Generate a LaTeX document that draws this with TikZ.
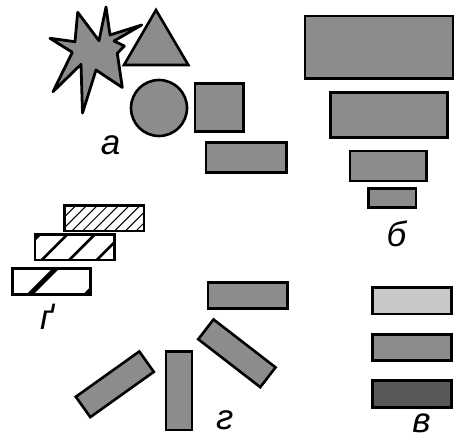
\documentclass[tikz,border=0pt]{standalone}
\usepackage{fontspec}
\newfontfamily\labfont{Liberation Sans}[ItalicFont={Liberation Sans Italic}]
\definecolor{fillg}{RGB}{140,140,140}
\definecolor{filll}{RGB}{200,200,200}
\definecolor{filld}{RGB}{88,88,88}
\tikzset{
  shp/.style={draw=black, line width=2.6pt, fill=fillg},
  hbox/.style={draw=black, line width=2.6pt},
  lab/.style={inner sep=0pt, font=\labfont\itshape\fontsize{35}{35}\selectfont}
}
\begin{document}
\begin{tikzpicture}[x=1pt,y=-1pt]
\fill[white] (0,0) rectangle (460,439);
\useasboundingbox (0,0) rectangle (460,439);
% group a
\draw[shp, line join=round, line width=2.8pt] (106,7) -- (110,35) -- (141.7,25) -- (114,41) -- (124.3,46) -- (117.3,53.3) -- (122.3,87.5) -- (96,70) -- (82.5,113) -- (81,64.3) -- (53,91.7) -- (72.3,52.3) -- (50,38.3) -- (75,41.7) -- (77.7,12.3) -- (99,40.7) -- cycle;
\draw[shp, line join=miter] (156,10) -- (124,65) -- (188.3,65) -- cycle;
\draw[shp] (159,108) circle (28);
\draw[shp] (195,83.3) rectangle (243.3,131.7);
\draw[shp] (206,142.7) rectangle (286.7,172.7);
\node[lab] (la) at (110.5,145.5) {а};
% group b
\draw[shp] (305,16) rectangle (453,78.5);
\draw[shp] (330.7,92.7) rectangle (447.7,137.3);
\draw[shp] (350,151) rectangle (426.7,181);
\draw[shp] (368.7,188.3) rectangle (416,207.3);
\node[lab] (lb) at (396.5,233.5) {б};
% group v
\draw[shp, fill=filll] (372.7,287.3) rectangle (451.7,314);
\draw[shp] (372.7,334.3) rectangle (451.7,360.7);
\draw[shp, fill=filld] (372.7,380.7) rectangle (451.7,407.7);
\node[lab] (lv) at (421.5,423) {в};
% group g
\draw[shp] (208,282.3) rectangle (287.3,308.3);
\draw[shp, shift={(236.9,353.3)}, rotate=-37.7] (-39.2,-12.5) rectangle (39.2,12.5);
\draw[shp] (166,351.3) rectangle (192,430);
\draw[shp, shift={(114.8,384.3)}, rotate=35.5] (-39,-12.5) rectangle (39,12.5);
\node[lab] (lg) at (224.7,420) {г};
% group g' hatched
\begin{scope}
  \clip (64.3,205.7) rectangle (144,231);
  \foreach \i in {0,...,10} \draw[line width=1pt] (39.7+\i*10.7,231) -- ++(30,-30);
\end{scope}
\draw[hbox] (64.3,205.7) rectangle (144,231);
\begin{scope}
  \clip (35,234.3) rectangle (114.3,260);
  \foreach \i in {0,...,3} \draw[line width=2.6pt] (14.2+\i*27.5,260) -- ++(30,-30);
\end{scope}
\draw[hbox] (35,234.3) rectangle (114.3,260);
\begin{scope}
  \clip (12.3,268.3) rectangle (90.7,294.3);
  \foreach \i in {0,1} \draw[line width=5pt] (30+\i*56.7,294.3) -- ++(30,-30);
\end{scope}
\draw[hbox] (12.3,268.3) rectangle (90.7,294.3);
\node[lab] (lgp) at (46,316.5) {ґ};
\end{tikzpicture}
\end{document}
